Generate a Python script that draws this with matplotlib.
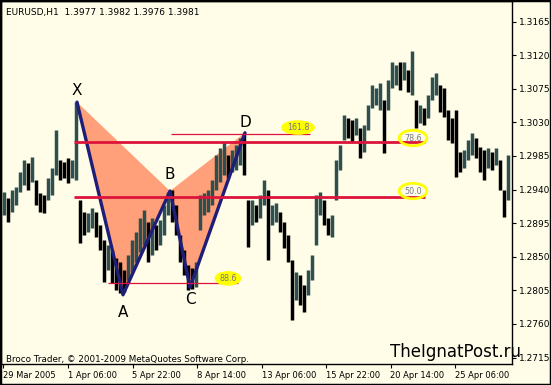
import matplotlib
matplotlib.use('Agg')
import matplotlib.pyplot as plt
import numpy as np
from matplotlib.patches import Polygon, Rectangle

# EURUSD H1, 29 Mar - 27 Apr 2005, one column = 4 hourly bars (high / low)
highs = [1.2937, 1.2929, 1.2939, 1.2943, 1.2964, 1.2980, 1.2976, 1.2984, 1.2953, 1.2935,
         1.2933, 1.2955, 1.2969, 1.3020, 1.2980, 1.2977, 1.2982, 1.2980, 1.3057, 1.2926,
         1.2910, 1.2909, 1.2915, 1.2910, 1.2892, 1.2872, 1.2866, 1.2859, 1.2848, 1.2843,
         1.2832, 1.2852, 1.2872, 1.2883, 1.2902, 1.2913, 1.2897, 1.2902, 1.2892, 1.2899,
         1.2919, 1.2937, 1.2939, 1.2919, 1.2879, 1.2859, 1.2839, 1.2835, 1.2843, 1.2933,
         1.2935, 1.2939, 1.2953, 1.2986, 1.2996, 1.3004, 1.2986, 1.2993, 1.3000, 1.3009,
         1.3016, 1.2926, 1.2926, 1.2919, 1.2933, 1.2953, 1.2939, 1.2919, 1.2922, 1.2910,
         1.2897, 1.2879, 1.2846, 1.2830, 1.2826, 1.2812, 1.2832, 1.2852, 1.2933, 1.2937,
         1.2926, 1.2902, 1.2906, 1.2980, 1.3000, 1.3040, 1.3036, 1.3033, 1.3036, 1.3022,
         1.3027, 1.3053, 1.3080, 1.3076, 1.3083, 1.3060, 1.3087, 1.3111, 1.3107, 1.3111,
         1.3111, 1.3100, 1.3126, 1.3060, 1.3053, 1.3049, 1.3067, 1.3091, 1.3096, 1.3080,
         1.3076, 1.3047, 1.3036, 1.3047, 1.2990, 1.2993, 1.3006, 1.3016, 1.3009, 1.2997,
         1.2993, 1.2996, 1.2990, 1.2996, 1.2980, 1.2939, 1.2986]
lows = [1.2906, 1.2897, 1.2910, 1.2919, 1.2937, 1.2946, 1.2939, 1.2950, 1.2919, 1.2910,
        1.2909, 1.2926, 1.2933, 1.2960, 1.2953, 1.2955, 1.2949, 1.2955, 1.2953, 1.2868,
        1.2879, 1.2883, 1.2888, 1.2876, 1.2859, 1.2816, 1.2832, 1.2815, 1.2805, 1.2801,
        1.2803, 1.2819, 1.2830, 1.2843, 1.2856, 1.2866, 1.2843, 1.2852, 1.2859, 1.2866,
        1.2879, 1.2906, 1.2897, 1.2879, 1.2843, 1.2826, 1.2805, 1.2807, 1.2809, 1.2886,
        1.2906, 1.2910, 1.2919, 1.2939, 1.2950, 1.2960, 1.2955, 1.2964, 1.2966, 1.2973,
        1.2960, 1.2863, 1.2892, 1.2897, 1.2902, 1.2919, 1.2846, 1.2892, 1.2897, 1.2883,
        1.2862, 1.2843, 1.2765, 1.2792, 1.2785, 1.2776, 1.2799, 1.2819, 1.2866, 1.2906,
        1.2892, 1.2879, 1.2876, 1.2926, 1.2966, 1.3006, 1.3009, 1.3004, 1.3013, 1.2982,
        1.2990, 1.3020, 1.3049, 1.3053, 1.3047, 1.2989, 1.3047, 1.3076, 1.3080, 1.3073,
        1.3087, 1.3071, 1.3067, 1.3022, 1.3029, 1.3027, 1.3036, 1.3060, 1.3067, 1.3044,
        1.3037, 1.3006, 1.3002, 1.2957, 1.2964, 1.2969, 1.2980, 1.2986, 1.2982, 1.2964,
        1.2953, 1.2969, 1.2966, 1.2973, 1.2939, 1.2903, 1.2926]

# harmonic pattern points (bar index, price)
pattern_names = ['X', 'A', 'B', 'C', 'D']
pattern_bars = [74, 120, 167, 187, 242]
pattern_prices = [1.3057, 1.2799, 1.2938, 1.2809, 1.3016]

# fibo levels
level_names = ['161.8', '78.6', '50.0', '88.6']
level_prices = [1.3014, 1.3004, 1.2930, 1.2815]
level_start = [168, 71, 71, 105]
level_end = [307, 422, 422, 235]

price_ticks = [1.3165, 1.3120, 1.3075, 1.3030, 1.2985, 1.2940, 1.2895,
               1.2850, 1.2805, 1.2760, 1.2715]
time_labels = ['29 Mar 2005', '1 Apr 06:00', '5 Apr 22:00', '8 Apr 14:00',
               '13 Apr 06:00', '15 Apr 22:00', '20 Apr 14:00', '25 Apr 06:00']
time_ticks = [0, 65, 129.5, 194, 258.5, 323, 387.5, 452]

bg = '#FFFDE8'
W, H = 551, 385

fig = plt.figure(figsize=(W / 100, H / 100), dpi=100, facecolor=bg)
ax = fig.add_axes([1 / W, 21 / H, 511 / W, 363 / H], facecolor=bg)

hi = np.array(highs)
lo = np.array(lows)
xs = np.arange(len(hi)) * 4 + 1
mid = (hi + lo) / 2
up = np.r_[True, np.diff(mid) >= 0]
cols = np.where(up, '#2F4F4F', '#000000')
ax.vlines(xs, lo, hi, colors=cols, linewidth=2.5, zorder=3)

# pattern triangles
pts = list(zip(pattern_bars, pattern_prices))
ax.add_patch(Polygon(pts[0:3], closed=True, fc='#FFA07A', ec='none', zorder=2))
ax.add_patch(Polygon(pts[2:5], closed=True, fc='#FFA07A', ec='none', zorder=2))
ax.plot(pattern_bars, pattern_prices, color='#1E1E78', lw=2.4, zorder=5,
        solid_joinstyle='round', solid_capstyle='round')

offs = [8.5, -13, 12, -9, 7.5]
for name, b, p, o in zip(pattern_names, pattern_bars, pattern_prices, offs):
    ax.annotate(name, (b, p), xytext=(0, o), textcoords='offset points',
                ha='center', va='center', fontsize=11, color='black', zorder=7)

# fibo lines + labels
lw_lv = [0.9, 2.0, 2.0, 0.9]
for p, s, e, w in zip(level_prices, level_start, level_end, lw_lv):
    ax.hlines(p, s, e, colors='#DC143C', linewidth=w, zorder=6)

lab_pos = [(295, 1.3023), (410, 1.3009), (410, 1.2938), (225, 1.2821)]
filled = [True, False, False, True]
for name, (b, p), f in zip(level_names, lab_pos, filled):
    if f:
        box = dict(boxstyle='ellipse,pad=0.02', fc='#FFFF00', ec='#FFFF00', lw=1)
    else:
        box = dict(boxstyle='ellipse,pad=0.12', fc='none', ec='#FFFF00', lw=2)
    ax.text(b, p, name, fontsize=5.8, color='#76768A', ha='center', va='center',
            bbox=box, zorder=8)

ax.set_xlim(-2, 509)
ax.set_ylim(1.27063, 1.31925)

ax.yaxis.tick_right()
ax.set_yticks(price_ticks)
ax.set_yticklabels(['%.4f' % t for t in price_ticks])
ax.set_xticks(time_ticks)
ax.set_xticklabels(time_labels)
for lab in ax.get_xticklabels():
    lab.set_horizontalalignment('left')
ax.tick_params(axis='y', direction='out', length=3, width=0.8, labelsize=6.5, pad=2)
ax.tick_params(axis='x', direction='out', length=3, width=0.8, labelsize=6, pad=2)
for sp in ax.spines.values():
    sp.set_color('black')
    sp.set_linewidth(1)

fig.text(6 / W, 1 - 12 / H, 'EURUSD,H1  1.3977 1.3982 1.3976 1.3981',
         fontsize=6.5, va='center', ha='left')
fig.text(6 / W, 1 - 359 / H, 'Broco Trader, \u00a9 2001-2009 MetaQuotes Software Corp.',
         fontsize=6.3, va='center', ha='left')
fig.text(455 / W, 1 - 352 / H, 'TheIgnatPost.ru', fontsize=12, va='center', ha='center')

fig.patches.append(Rectangle((0, 0), 1, 1, transform=fig.transFigure, fill=False,
                             ec='black', lw=2.5))

fig.savefig('out.png', dpi=100, facecolor=bg)
